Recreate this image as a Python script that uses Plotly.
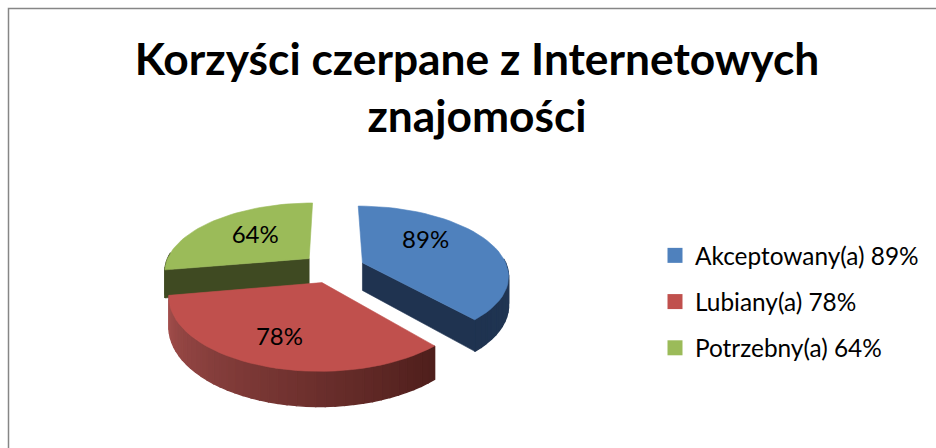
import numpy as np
import plotly.graph_objects as go

categories = ["Akceptowany(a)", "Lubiany(a)", "Potrzebny(a)"]
values = [89, 78, 64]
labels = ["89%", "78%", "64%"]
top_colors = ["#4F81BD", "#C0504D", "#9BBB59"]
cut_colors = ["#1F3350", "#4A1F1D", "#3F4A22"]
wall_light = ["#1F3350", "#A5504E", "#4F6030"]
wall_dark = ["#26405F", "#4F1F1C", "#3F4A22"]
title_lines = ["Korzyści czerpane z Internetowych", "znajomości"]

W, H = 936, 448
CX, CY, RX, RY, K, DEPTH, EXPLODE = 333, 268, 145, 68, 0.17, 28, 0.22
VISIBLE_CUT = [-1, None, 0]
LABEL_RADIUS = [0.58, 0.72, 0.54]
LABEL_TURN_DEG = [-14, 0, 0]


def project(X, Y):
    s = 1 / (1 + K * np.asarray(Y, float))
    return CX + RX * np.asarray(X, float) * s, CY - RY * np.asarray(Y, float) * s, DEPTH * s


def hex2rgb(c):
    return np.array([int(c[i:i + 2], 16) for i in (1, 3, 5)], float)


def lerp(a, b, t):
    v = hex2rgb(a) * (1 - t) + hex2rgb(b) * t
    return "rgb(%d,%d,%d)" % tuple(v)


def poly(xs, ys, color, width=0.6):
    return go.Scatter(x=list(xs), y=list(ys), mode="lines", fill="toself", fillcolor=color,
                      line=dict(color=color, width=width), hoverinfo="skip", showlegend=False)


total = sum(values)
edges = np.concatenate([[0], np.cumsum(values)]) / total * 2 * np.pi
fig = go.Figure()
text_x, text_y = [], []
slices = []
for i in range(len(values)):
    a0, a1 = edges[i], edges[i + 1]
    mid = (a0 + a1) / 2
    ox, oy = EXPLODE * np.sin(mid), EXPLODE * np.cos(mid)
    slices.append((i, a0, a1, ox, oy))
    la = mid + np.radians(LABEL_TURN_DEG[i])
    lx, ly, _ = project(ox + LABEL_RADIUS[i] * np.sin(la), oy + LABEL_RADIUS[i] * np.cos(la))
    text_x.append(float(lx))
    text_y.append(float(ly))

# painter's order: back slices first, front slice last
for i, a0, a1, ox, oy in [slices[2], slices[0], slices[1]]:
    ang = np.linspace(a0, a1, 41)
    X, Y = ox + np.sin(ang), oy + np.cos(ang)
    px, py, pd = project(X, Y)
    ax, ay, ad = project(ox, oy)
    # outer wall, only the part turned toward the viewer
    for j in range(len(ang) - 1):
        if np.cos(ang[j]) > 0.05 and np.cos(ang[j + 1]) > 0.05:
            continue
        t = (ang[j] - a0) / (a1 - a0)
        c = lerp(wall_dark[i], wall_light[i], t)
        fig.add_trace(poly([px[j], px[j + 1], px[j + 1], px[j], px[j]],
                           [py[j], py[j + 1], py[j + 1] + pd[j + 1], py[j] + pd[j], py[j]], c, 1.4))
    # cut face facing the viewer
    j = VISIBLE_CUT[i]
    if j is not None:
        fig.add_trace(poly([ax, px[j], px[j], ax, ax], [ay, py[j], py[j] + pd[j], ay + ad, ay], cut_colors[i]))
    # top face
    fig.add_trace(poly(np.r_[ax, px, ax], np.r_[ay, py, ay], top_colors[i]))

fig.add_trace(go.Scatter(x=text_x, y=text_y, mode="text", text=labels, hoverinfo="skip", showlegend=False,
                         textfont=dict(family="Lato", size=24, color="#000000")))

for i, cat in enumerate(categories):
    fig.add_trace(go.Scatter(x=[None], y=[None], mode="markers", name=f"{cat} {labels[i]}", legendgroup=cat,
                             marker=dict(symbol="square", size=15, color=top_colors[i])))

fig.update_layout(
    width=W, height=H, autosize=False, margin=dict(l=0, r=0, t=0, b=0),
    paper_bgcolor="#FFFFFF", plot_bgcolor="#FFFFFF",
    xaxis=dict(range=[0, W], visible=False, fixedrange=True),
    yaxis=dict(range=[H, 0], visible=False, fixedrange=True),
    title=dict(text=f"{title_lines[0]}<br>{title_lines[1]}",
               x=477 / W, xanchor="center", y=1 - 74.5 / H, yanchor="middle",
               font=dict(family="Lato", size=44.3, color="#000000", weight="bold")),
    legend=dict(x=655 / W, y=1 - 233 / H, xanchor="left", yanchor="top", tracegroupgap=11.5,
                font=dict(family="Lato", size=24.4, color="#000000"), bgcolor="rgba(0,0,0,0)"),
    shapes=[dict(type="rect", xref="paper", yref="paper", x0=8.5 / W, x1=1.02, y0=1 - 8.5 / H, y1=-0.02,
                 line=dict(color="#868686", width=1.5), fillcolor="rgba(0,0,0,0)")],
)
fig.write_html("out.html", config=dict(displayModeBar=False),
               post_script="document.body.style.margin='0';document.documentElement.style.overflow='hidden';")
